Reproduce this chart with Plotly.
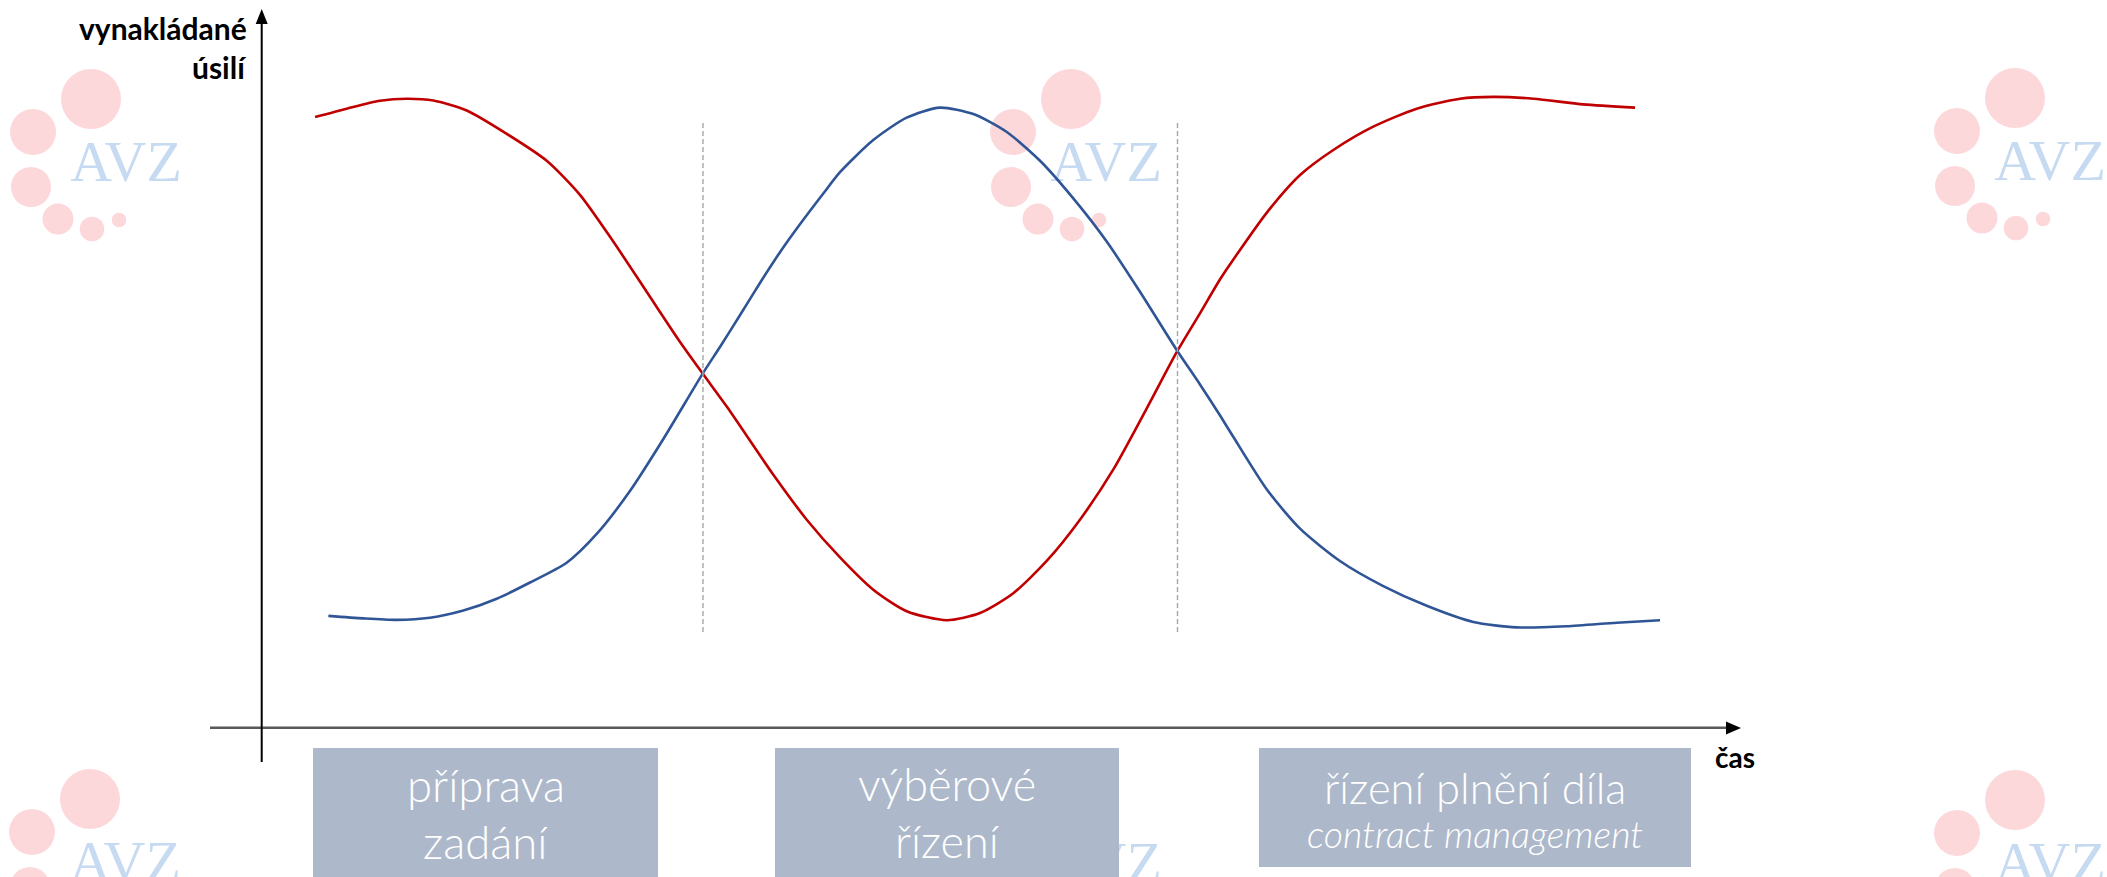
import plotly.graph_objects as go

W, H = 2107, 877

# ---------------- data (time = x, effort = y) ----------------
red_t = [3.61, 5.75, 8.00, 9.81, 11.61, 13.87, 16.57, 19.28, 21.53, 23.78, 26.04, 28.30,
         29.83, 31.46, 34.61, 36.87, 39.12, 41.37, 43.63, 46.34, 48.59, 50.84, 53.10,
         55.35, 57.61, 59.87, 61.94, 63.47, 64.83, 65.73, 67.98, 70.24, 72.49, 75.19,
         78.13, 81.06, 83.31, 86.02, 89.40, 92.90]
red_e = [85.09, 86.25, 87.35, 87.64, 87.39, 86.00, 82.75, 78.99, 74.24, 67.74, 60.74, 53.74,
         49.34, 44.74, 35.24, 28.98, 23.73, 19.23, 16.23, 14.98, 15.98, 18.73, 23.23,
         28.98, 35.99, 44.50, 52.49, 57.74, 62.49, 65.24, 71.74, 77.00, 80.49, 83.74,
         86.25, 87.64, 87.89, 87.64, 86.85, 86.40]

blue_t = [4.51, 6.87, 9.13, 11.38, 13.64, 15.90, 18.15, 20.63, 22.66, 24.91, 27.17, 29.83,
          31.00, 32.35, 33.82, 35.06, 36.41, 37.99, 39.12, 41.37, 43.63, 45.88, 48.14,
          50.40, 52.65, 54.90, 57.16, 59.41, 61.94, 63.47, 64.83, 65.73, 67.98, 70.24,
          72.94, 75.87, 78.81, 81.96, 84.89, 88.28, 91.66, 94.59]
blue_e = [15.58, 15.23, 15.03, 15.33, 16.33, 17.97, 20.23, 22.98, 26.99, 32.98, 40.23, 49.34,
          53.05, 57.46, 62.34, 66.25, 70.14, 74.43, 77.40, 81.88, 85.00, 86.40, 85.50,
          83.00, 78.99, 73.75, 67.74, 60.74, 52.49, 47.83, 43.49, 40.50, 33.23, 27.73,
          23.23, 19.73, 16.98, 14.73, 13.98, 14.13, 14.63, 14.98]

phase_bounds = [29.85, 61.95]
phase_line1 = ["příprava", "výběrové", "řízení plnění díla"]
phase_line2 = ["zadání", "řízení", "<i>contract management</i>"]

y_label = ["vynakládané", "úsilí"]
x_label = "čas"
logo_text = "AVZ"

# ---------------- geometry (pixels of the 2107x877 canvas) ----------------
ORX, ORY = 261.7, 727.7        # axis origin
KX, KY = 14.783, 7.177         # pixels per data unit

def t_of(xp):
    return (xp - ORX) / KX

def e_of(yp):
    return (ORY - yp) / KY

def PX(xp):
    return xp / W

def PY(yp):
    return 1 - yp / H

def path_px(pts):
    return "M " + " L ".join(f"{PX(x):.6f},{PY(y):.6f}" for x, y in pts) + " Z"

RED = "#C00000"
BLUE = "#2F5597"
BOX = "#ADB9CA"
PINK = "#FDD8DB"
LBLUE = "#C6DAF1"

fig = go.Figure()

# ---------------- watermark logos ----------------
logo_centers = [(91, 99), (1071, 99), (2015, 98), (90, 799), (1071, 800), (2015, 800)]
logo_circles = [(0, 0, 30), (-58, 33, 23), (-60, 88, 20), (-33, 120, 15.5), (1, 130, 12.3), (28, 121, 7.3)]
shapes = []
for cx, cy in logo_centers:
    for dx, dy, r in logo_circles:
        shapes.append(dict(type="circle", xref="paper", yref="paper",
                           x0=PX(cx + dx - r), x1=PX(cx + dx + r),
                           y0=PY(cy + dy + r), y1=PY(cy + dy - r),
                           fillcolor=PINK, line=dict(width=0), layer="below"))

fig.add_trace(go.Scatter(
    x=[t_of(cx + 35) for cx, cy in logo_centers],
    y=[e_of(cy + 67) for cx, cy in logo_centers],
    mode="text", text=[logo_text] * len(logo_centers),
    textposition="middle center",
    textfont=dict(family="Liberation Serif", size=58, color=LBLUE),
    hoverinfo="skip", showlegend=False))

# ---------------- curves ----------------
fig.add_trace(go.Scatter(x=red_t, y=red_e, mode="lines",
                         line=dict(color=RED, width=2.6, shape="spline", smoothing=0.7),
                         showlegend=False, hoverinfo="skip"))
fig.add_trace(go.Scatter(x=blue_t, y=blue_e, mode="lines",
                         line=dict(color=BLUE, width=2.6, shape="spline", smoothing=0.7),
                         showlegend=False, hoverinfo="skip"))

# ---------------- phase separators ----------------
for b in phase_bounds:
    shapes.append(dict(type="line", xref="x", yref="y", x0=b, x1=b,
                       y0=e_of(632), y1=e_of(121),
                       line=dict(color="#A6A6A6", width=1.4, dash="5px,3px"), layer="above"))

# ---------------- axes (arrows) ----------------
shapes.append(dict(type="line", xref="paper", yref="paper",
                   x0=PX(210), x1=PX(1728), y0=PY(ORY), y1=PY(ORY),
                   line=dict(color="#595959", width=2.4), layer="above"))
shapes.append(dict(type="path", xref="paper", yref="paper",
                   path=path_px([(1726, 721.5), (1741, 728), (1726, 734.5)]),
                   fillcolor="black", line=dict(width=0), layer="above"))
shapes.append(dict(type="line", xref="paper", yref="paper",
                   x0=PX(ORX), x1=PX(ORX), y0=PY(762), y1=PY(22),
                   line=dict(color="black", width=2), layer="above"))
shapes.append(dict(type="path", xref="paper", yref="paper",
                   path=path_px([(255.7, 24), (ORX, 9), (267.7, 24)]),
                   fillcolor="black", line=dict(width=0), layer="above"))

# ---------------- phase boxes ----------------
box_x = [(313, 658), (775, 1119), (1259, 1691)]
box_y = [(748, 880), (748, 880), (748, 867)]
for (x0, x1), (y0, y1) in zip(box_x, box_y):
    shapes.append(dict(type="rect", xref="paper", yref="paper",
                       x0=PX(x0), x1=PX(x1), y0=PY(y1), y1=PY(y0),
                       fillcolor=BOX, line=dict(width=0), layer="above"))

annotations = []
line1_base = [800, 800, 802]
line2_base = [857, 857, 847]
line1_size = [45.5, 45, 43.5]
line2_size = [45.5, 45, 37.5]
for i in range(3):
    cx = (box_x[i][0] + box_x[i][1]) / 2
    for txt, base, size in ((phase_line1[i], line1_base[i], line1_size[i]),
                            (phase_line2[i], line2_base[i], line2_size[i])):
        annotations.append(dict(x=PX(cx), y=PY(base - 0.35 * size), xref="paper", yref="paper",
                                text=txt, showarrow=False, xanchor="center", yanchor="middle",
                                font=dict(family="Lato", size=size, color="white", weight=300)))

# axis labels
LBL = 30
annotations.append(dict(x=PX(249), y=PY(38.3 - 0.35 * LBL), xref="paper", yref="paper",
                        text=f"<b>{y_label[0]}</b>", showarrow=False, xanchor="right", yanchor="middle",
                        font=dict(family="Lato", size=LBL, color="black")))
annotations.append(dict(x=PX(249), y=PY(78 - 0.35 * LBL), xref="paper", yref="paper",
                        text=f"<b>{y_label[1]}</b>", showarrow=False, xanchor="right", yanchor="middle",
                        font=dict(family="Lato", size=LBL, color="black")))
annotations.append(dict(x=PX(1735), y=PY(766.7 - 0.35 * 28), xref="paper", yref="paper",
                        text=f"<b>{x_label}</b>", showarrow=False, xanchor="center", yanchor="middle",
                        font=dict(family="Lato", size=28, color="black")))

fig.update_layout(
    width=W, height=H,
    margin=dict(l=0, r=0, t=0, b=0, pad=0),
    paper_bgcolor="white", plot_bgcolor="white",
    xaxis=dict(range=[t_of(0), t_of(W)], visible=False, fixedrange=True),
    yaxis=dict(range=[e_of(H), e_of(0)], visible=False, fixedrange=True),
    shapes=shapes, annotations=annotations,
    showlegend=False,
)

fig.write_html("out.html", config={"displayModeBar": False},
               post_script="document.body.style.margin='0';document.body.style.overflow='hidden';")
